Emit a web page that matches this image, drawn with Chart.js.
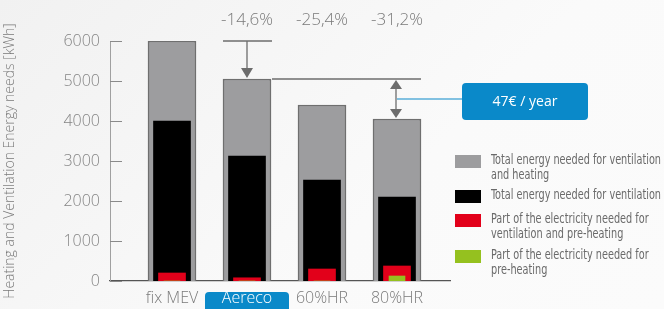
<!DOCTYPE html>
<html>
<head>
<meta charset="utf-8">
<script src="https://cdn.jsdelivr.net/npm/chart.js@4.4.1/dist/chart.umd.min.js"></script>
<style>
  html, body { margin: 0; padding: 0; }
  body { width: 664px; height: 309px; background: linear-gradient(135deg, #f1f1f1 0%, #fafafa 60%, #fbfbfb 100%); }
  #wrap { position: relative; width: 664px; height: 309px; }
</style>
</head>
<body>
<div id="wrap"><canvas id="energy_graph" width="664" height="309"></canvas></div>
<script>
// categories and values (kWh)
var categories = ['fix MEV', 'Aereco', '60%HR', '80%HR'];
var totalVentHeating = [6000, 5050, 4400, 4050];
var totalVentilation = [4000, 3125, 2525, 2100];
var elecVentPreheat = [200, 80, 300, 375];
var elecPreheat = [0, 0, 0, 125];
var savings = ['', '-14,6%', '-25,4%', '-31,2%'];
var yTicks = [0, 1000, 2000, 3000, 4000, 5000, 6000];
var savingLabel = '47€ / year';

var legendLines = [
  ['Total energy needed for ventilation', 'and heating'],
  ['Total energy needed for ventilation'],
  ['Part of the electricity needed for', 'ventilation and pre-heating'],
  ['Part of the electricity needed for', 'pre-heating']
];

var GREY = '#9d9d9f', BLUE = '#0a89c9', TXT = '#7a7a7a';

function pts(arr) {
  var out = [];
  for (var i in arr) out.push({ x: +i, y: arr[i] });
  return out;
}

var annotations = {
  id: 'annotations',
  beforeDraw: function(chart) {
    // blue box behind "Aereco" tick label
    var ctx = chart.ctx, x = chart.scales.x;
    var cx = x.getPixelForValue(1);
    ctx.save();
    ctx.fillStyle = BLUE;
    ctx.beginPath();
    ctx.roundRect(cx - 42, 292, 84, 22, 4);
    ctx.fill();
    ctx.restore();
  },
  afterDraw: function(chart) {
    var ctx = chart.ctx, x = chart.scales.x, y = chart.scales.y;
    ctx.save();

    // inward ticks on y axis
    ctx.strokeStyle = '#8a8a8a';
    ctx.lineWidth = 1;
    yTicks.forEach(function(v) {
      var py = Math.round(y.getPixelForValue(v)) + 0.5;
      ctx.beginPath();
      ctx.moveTo(110, py);
      ctx.lineTo(122, py);
      ctx.stroke();
    });

    // percentage labels
    ctx.fillStyle = TXT;
    ctx.font = '300 17px "Open Sans", sans-serif';
    ctx.textAlign = 'center';
    ctx.textBaseline = 'middle';
    savings.forEach(function(s, i) {
      if (s) ctx.fillText(s, x.getPixelForValue(i), 20);
    });

    ctx.strokeStyle = '#6d6d6d';
    ctx.fillStyle = '#6d6d6d';
    ctx.lineWidth = 1.3;

    // arrow from fix MEV level down to Aereco
    var ax = x.getPixelForValue(1);
    var y0 = y.getPixelForValue(totalVentHeating[0]);
    var y1 = y.getPixelForValue(totalVentHeating[1]);
    ctx.beginPath();
    ctx.moveTo(ax - 24, y0); ctx.lineTo(ax + 25, y0);
    ctx.moveTo(ax, y0); ctx.lineTo(ax, y1 - 10);
    ctx.stroke();
    ctx.beginPath();
    ctx.moveTo(ax - 6, y1 - 11); ctx.lineTo(ax + 6, y1 - 11); ctx.lineTo(ax, y1 - 1);
    ctx.closePath(); ctx.fill();

    // line at Aereco level and double arrow to 80%HR
    var bx = x.getPixelForValue(3);
    var y3 = y.getPixelForValue(totalVentHeating[3]);
    ctx.beginPath();
    ctx.moveTo(ax + 25, y1); ctx.lineTo(bx + 24, y1);
    ctx.moveTo(bx - 1, y1 + 9); ctx.lineTo(bx - 1, y3 - 9);
    ctx.stroke();
    ctx.beginPath();
    ctx.moveTo(bx - 7, y1 + 10); ctx.lineTo(bx + 5, y1 + 10); ctx.lineTo(bx - 1, y1 + 1);
    ctx.closePath(); ctx.fill();
    ctx.beginPath();
    ctx.moveTo(bx - 7, y3 - 10); ctx.lineTo(bx + 5, y3 - 10); ctx.lineTo(bx - 1, y3 - 1);
    ctx.closePath(); ctx.fill();

    // blue callout
    var my = (y1 + y3) / 2;
    ctx.strokeStyle = BLUE;
    ctx.lineWidth = 1;
    ctx.beginPath();
    ctx.moveTo(bx, my); ctx.lineTo(462, my);
    ctx.stroke();
    ctx.fillStyle = BLUE;
    ctx.beginPath();
    ctx.roundRect(462, 83, 126, 37, 4);
    ctx.fill();
    ctx.fillStyle = '#ffffff';
    ctx.font = '14px "Open Sans", sans-serif';
    ctx.fillText(savingLabel, 525, 102);

    // legend
    var rowsTop = [155, 190, 214, 250];
    ctx.textAlign = 'left';
    ctx.textBaseline = 'top';
    ctx.font = '14px "Liberation Sans Narrow", "DejaVu Sans Condensed", sans-serif';
    var w = ctx.measureText(legendLines[1][0]).width;
    var sx = 170 / w;
    chart.data.datasets.forEach(function(ds, i) {
      var top = rowsTop[i];
      ctx.fillStyle = ds.backgroundColor;
      ctx.fillRect(455, top, 26, 13);
      ctx.fillStyle = '#6a6a6a';
      legendLines[i].forEach(function(line, j) {
        ctx.save();
        ctx.translate(491, top - 2 + j * 15);
        ctx.scale(sx, 1);
        ctx.fillText(line, 0, 0);
        ctx.restore();
      });
    });

    ctx.restore();
  }
};

var chartdata = {
  datasets: [
    {
      label: 'Total energy needed for ventilation and heating',
      data: pts(totalVentHeating),
      backgroundColor: GREY,
      borderColor: '#6f6f6f',
      borderWidth: 1.5,
      borderSkipped: 'bottom',
      barThickness: 48,
      order: 4
    },
    {
      label: 'Total energy needed for ventilation',
      data: pts(totalVentilation),
      backgroundColor: '#000000',
      barThickness: 37,
      order: 3
    },
    {
      label: 'Part of the electricity needed for ventilation and pre-heating',
      data: pts(elecVentPreheat),
      backgroundColor: '#e2001a',
      barThickness: 27,
      order: 2
    },
    {
      label: 'Part of the electricity needed for pre-heating',
      data: pts(elecPreheat),
      backgroundColor: '#95c11f',
      barThickness: 16,
      order: 1
    }
  ]
};

var ctx = document.getElementById('energy_graph');

var EnergyGraph = new Chart(ctx, {
  type: 'bar',
  data: chartdata,
  plugins: [annotations],
  options: {
    responsive: false,
    animation: false,
    layout: { padding: { top: 41, right: 214, bottom: 0, left: 0 } },
    plugins: { legend: { display: false }, tooltip: { enabled: false } },
    datasets: { bar: { grouped: false } },
    scales: {
      x: {
        type: 'linear',
        offset: false,
        min: -0.8267,
        max: 3.7067,
        afterFit: function(s) { s.height = 28; },
        afterBuildTicks: function(s) {
          s.ticks = categories.map(function(c, i) { return { value: i }; });
        },
        grid: { display: false, drawTicks: false, offset: false },
        border: { color: '#555555', width: 1.3 },
        ticks: {
          padding: 8,
          autoSkip: false,
          maxRotation: 0,
          color: function(c) { return c.index === 1 ? '#ffffff' : TXT; },
          font: { family: '"Open Sans", sans-serif', size: 16, weight: 300 },
          callback: function(v) { return categories[v]; }
        }
      },
      y: {
        min: 0,
        max: 6000,
        afterFit: function(s) { s.width = 110; },
        afterBuildTicks: function(s) {
          s.ticks = yTicks.map(function(v) { return { value: v }; });
        },
        grid: { display: false, drawTicks: false },
        border: { color: '#a0a0a0', width: 1 },
        ticks: {
          padding: 10,
          color: '#858585',
          font: { family: '"Open Sans", sans-serif', size: 16, weight: 300 },
          callback: function(v) { return String(v); }
        },
        title: {
          display: true,
          text: 'Heating and Ventilation Energy needs [kWh]',
          color: TXT,
          padding: { top: 2, bottom: 0 },
          font: { family: '"Open Sans", sans-serif', size: 14, weight: 300 }
        }
      }
    }
  }
});
</script>
</body>
</html>
